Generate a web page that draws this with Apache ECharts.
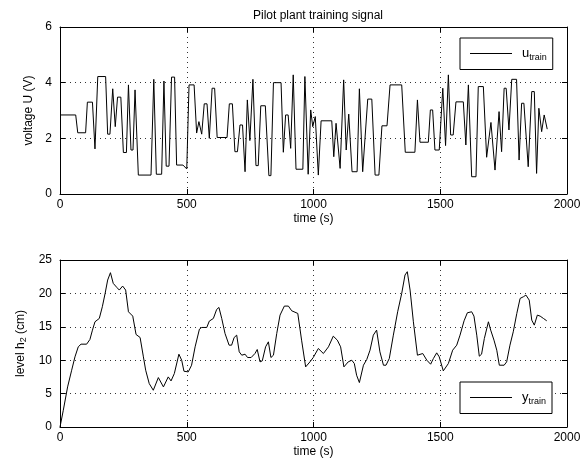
<!DOCTYPE html>
<html lang="en">
<head>
    <meta charset="UTF-8">
    <script type="text/javascript" src="https://cdn.jsdelivr.net/npm/echarts@6/dist/echarts.min.js"></script>
    <style>
        html, body { margin: 0; padding: 0; background: #fff; }
    </style>
</head>
<body>
    <div id="main" style="width: 585px;height: 475px;"></div>

    <script type="text/javascript">
        // training input u (V)
        var tU = [0, 62, 70, 101, 108, 128, 138, 149, 180, 188, 197, 208, 218, 227, 240, 250, 262, 270, 280, 288, 296, 309,
            359, 370, 380, 401, 410, 419, 430, 440, 452, 460, 485, 500, 509, 529, 539, 548, 559, 569, 580, 589, 600, 610, 620,
            659, 668, 680, 690, 700, 710, 720, 730, 739, 749, 761, 773, 782, 792, 810, 824, 832, 842, 872, 881, 890, 900, 910,
            920, 931, 958, 966, 979, 989, 997, 1007, 1019, 1030, 1072, 1080, 1089, 1105, 1119, 1129, 1139, 1152, 1172, 1181,
            1194, 1214, 1230, 1243, 1258, 1270, 1290, 1302, 1348, 1362, 1400, 1410, 1420, 1453, 1461, 1470, 1479, 1496, 1510,
            1521, 1532, 1541, 1551, 1562, 1591, 1601, 1611, 1624, 1641, 1650, 1670, 1683, 1688, 1700, 1716, 1720, 1732, 1742,
            1752, 1760, 1771, 1782, 1801, 1811, 1821, 1830, 1847, 1861, 1871, 1880, 1889, 1900, 1910, 1922];
        var uVals = [2.84, 2.84, 2.2, 2.2, 3.3, 3.3, 1.62, 4.22, 4.22, 2.15, 2.15, 3.78, 2.42, 3.48, 3.48, 1.49, 1.49, 3.92, 1.58,
            1.58, 3.74, 0.68, 0.68, 4.12, 0.71, 0.71, 4.06, 1.0, 1.0, 4.2, 4.2, 1.04, 1.04, 0.9, 3.92, 3.92, 2.19, 2.6, 2.15,
            3.24, 3.24, 2.0, 3.8, 3.8, 2.03, 2.03, 3.24, 3.24, 1.52, 1.52, 2.48, 2.48, 0.8, 3.38, 1.92, 4.12, 1.02, 1.02, 3.17,
            3.17, 0.66, 0.66, 4.0, 4.0, 1.5, 2.84, 2.84, 1.64, 4.28, 0.89, 0.89, 4.22, 0.71, 3.02, 2.42, 2.78, 0.68, 2.63, 2.63,
            1.34, 2.54, 0.92, 4.1, 1.58, 2.87, 0.8, 0.8, 3.78, 0.8, 3.41, 3.41, 0.68, 0.68, 2.45, 2.45, 3.92, 3.92, 1.5, 1.5,
            3.38, 1.86, 1.86, 3.02, 3.02, 1.58, 1.58, 3.8, 1.74, 4.28, 2.12, 2.12, 3.31, 3.31, 1.76, 3.92, 0.62, 0.62, 3.86,
            3.86, 1.32, 1.32, 2.57, 0.86, 0.86, 2.96, 1.52, 3.8, 3.8, 2.3, 4.12, 4.12, 1.22, 3.26, 3.26, 0.98, 3.68, 3.68, 0.74,
            3.08, 2.24, 2.84, 2.33];

        var tY = [0, 13, 30, 46, 59, 72, 83, 105, 118, 128, 138, 155, 167, 178, 188, 199, 210, 224, 234, 247, 259, 270, 287,
            300, 316, 329, 338, 352, 368, 388, 408, 427, 438, 451, 469, 480, 489, 506, 519, 533, 550, 559, 579, 589, 605, 618,
            627, 638, 651, 667, 677, 687, 697, 707, 717, 730, 740, 754, 769, 778, 789, 798, 811, 822, 832, 842, 855, 868, 885,
            901, 914, 938, 953, 969, 986, 999, 1019, 1039, 1059, 1078, 1094, 1107, 1120, 1137, 1151, 1161, 1170, 1181, 1197,
            1210, 1223, 1236, 1249, 1262, 1276, 1286, 1299, 1315, 1332, 1348, 1361, 1370, 1381, 1394, 1410, 1431, 1447, 1462,
            1473, 1486, 1496, 1512, 1532, 1549, 1565, 1578, 1594, 1607, 1624, 1633, 1644, 1654, 1663, 1674, 1690, 1699, 1712,
            1723, 1733, 1752, 1762, 1775, 1788, 1802, 1815, 1828, 1838, 1851, 1861, 1871, 1883, 1894, 1907, 1920];
        var yVals = [0, 2.5, 6, 8.5, 10.5, 12, 12.4, 12.4, 13.1, 14.5, 15.75, 16.25, 18, 20, 22, 23.1, 21.5, 20.9, 20.5, 21.1,
            20.5, 17.25, 16.6, 13.85, 13.4, 10.5, 8.5, 6.5, 5.5, 7.4, 6, 7.5, 6.9, 8, 10.9, 10, 8.35, 8.25, 9.25, 12, 14.65,
            14.9, 14.9, 15.85, 16.25, 17.6, 17.9, 16.25, 14, 12.25, 12.25, 13.4, 13.75, 11.25, 10.75, 10.9, 10.4, 10.4, 11,
            11.6, 9.75, 9.9, 12, 12.75, 10.4, 10.75, 14, 16.75, 18.1, 18.1, 17.4, 17, 13, 9, 9.75, 10.4, 11.75, 11, 12, 13.6,
            13, 12, 9, 9.75, 10, 9.5, 7.75, 6.65, 9.25, 10.1, 11.5, 13.75, 14.5, 11.25, 9.25, 9.25, 10.25, 13.75, 17.25, 20,
            22.75, 23.25, 20.5, 15.75, 10.75, 11, 10, 9.4, 10.25, 11.1, 10.5, 8.4, 9.5, 11.5, 12.25, 13.75, 15.9, 17.1, 17.25,
            16.6, 13.75, 10.6, 10.9, 13.25, 15.75, 14.5, 13, 11.5, 9.25, 9.25, 9.75, 12.25, 14.25, 17, 19.25, 19.5, 19.75, 19,
            16, 15.25, 16.75, 16.6, 16.25, 15.9];

        var xTicks = [0, 2000, 500];
        var uTicks = [0, 6, 2];
        var yTicks = [0, 25, 5];

        var font = "'Liberation Sans', Arial, Helvetica, sans-serif";

        function pairs(xs, ys) {
            var out = [];
            for (var i = 0; i < xs.length; i++) out.push([xs[i], ys[i]]);
            return out;
        }

        function xAx(grid, pos, name) {
            return {
                type: 'value', gridIndex: grid, position: pos,
                min: xTicks[0], max: xTicks[1], interval: xTicks[2],
                name: name, nameLocation: 'middle', nameGap: 19,
                nameTextStyle: { fontFamily: font, fontSize: 12, color: '#000' },
                axisLine: { show: true, onZero: false, lineStyle: { color: '#000', width: 1 } },
                axisTick: { show: true, inside: true, length: 5, lineStyle: { color: '#000' } },
                axisLabel: {
                    show: pos === 'bottom', fontFamily: font, fontSize: 12, color: '#000', margin: 5,
                    formatter: function (v) { return String(v); }
                },
                splitLine: { show: pos === 'bottom', lineStyle: { color: '#333', type: [1, 4], width: 1 } }
            };
        }

        function yAx(grid, pos, t, name) {
            return {
                type: 'value', gridIndex: grid, position: pos,
                min: t[0], max: t[1], interval: t[2],
                name: name, nameLocation: 'middle', nameGap: 25,
                nameTextStyle: {
                    fontFamily: font, fontSize: 12, color: '#000',
                    rich: { s: { fontFamily: font, fontSize: 9, color: '#000', padding: [6, 0, 0, 0] } }
                },
                axisLine: { show: true, onZero: false, lineStyle: { color: '#000', width: 1 } },
                axisTick: { show: true, inside: true, length: 5, lineStyle: { color: '#000' } },
                axisLabel: {
                    show: pos === 'left', fontFamily: font, fontSize: 12, color: '#000', margin: 8,
                    formatter: function (v) { return String(v); }
                },
                splitLine: { show: pos === 'left', lineStyle: { color: '#333', type: [1, 4], width: 1 } }
            };
        }

        function leg(name, main, top) {
            return {
                data: [name], left: 460, top: top, orient: 'horizontal',
                backgroundColor: '#fff', borderColor: '#000', borderWidth: 1, borderRadius: 0,
                padding: [9, 6, 7, 10],
                icon: 'rect', itemWidth: 42, itemHeight: 1,
                itemStyle: { color: '#000' },
                formatter: function () { return '{a|' + main + '}{b|train}'; },
                textStyle: {
                    color: '#000',
                    rich: {
                        a: { fontFamily: font, fontSize: 13, color: '#000', padding: [0, 0, 0, 5] },
                        b: { fontFamily: font, fontSize: 9, color: '#000', padding: [9, 0, 0, 0] }
                    }
                }
            };
        }

        var myChart = echarts.init(document.getElementById('main'), null, { renderer: 'canvas' });
        var option = {
            backgroundColor: '#fff',
            animation: false,
            title: {
                text: 'Pilot plant training signal', left: 313, top: 5, textAlign: 'center',
                textStyle: { fontFamily: font, fontSize: 12, fontWeight: 'normal', color: '#000' }
            },
            legend: [leg('u_train', 'u', 38), leg('y_train', 'y', 382)],
            grid: [
                { left: 60, top: 27, width: 507, height: 167 },
                { left: 60, top: 260, width: 507, height: 167 }
            ],
            xAxis: [
                xAx(0, 'bottom', 'time (s)'), xAx(0, 'top', ''),
                xAx(1, 'bottom', 'time (s)'), xAx(1, 'top', '')
            ],
            yAxis: [
                yAx(0, 'left', uTicks, 'voltage U (V)'), yAx(0, 'right', uTicks, ''),
                yAx(1, 'left', yTicks, 'level h{s|2} (cm)'), yAx(1, 'right', yTicks, '')
            ],
            series: [
                {
                    name: 'u_train', type: 'line', xAxisIndex: 0, yAxisIndex: 0,
                    symbol: 'none', lineStyle: { color: '#000', width: 1 }, itemStyle: { color: '#000' },
                    data: pairs(tU, uVals)
                },
                {
                    name: 'y_train', type: 'line', xAxisIndex: 2, yAxisIndex: 2,
                    symbol: 'none', lineStyle: { color: '#000', width: 1 }, itemStyle: { color: '#000' },
                    data: pairs(tY, yVals)
                }
            ]
        };
        myChart.setOption(option);
    </script>
</body>
</html>
